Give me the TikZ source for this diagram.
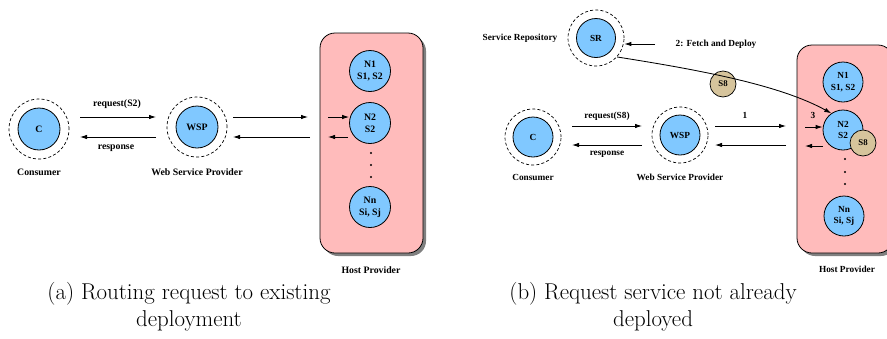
\documentclass[tikz,border=0pt]{standalone}
\usepackage{fontspec}
\newfontfamily\labfont{Liberation Serif}
\usetikzlibrary{arrows.meta,calc}
\definecolor{nodeblue}{RGB}{128,200,255}
\definecolor{hostpink}{RGB}{255,187,187}
\definecolor{pkgtan}{RGB}{214,196,156}
\tikzset{
  lab/.style={font=\labfont\bfseries\fontsize{9.8}{12}\selectfont,inner sep=0pt,align=center},
  labb/.style={font=\labfont\bfseries\fontsize{9.3}{11.5}\selectfont,inner sep=0pt,align=center},
  svc/.style={circle,draw,line width=0.8pt,fill=nodeblue,inner sep=0pt,align=center,
    font=\labfont\bfseries\fontsize{9.8}{12}\selectfont},
  svcb/.style={svc,font=\labfont\bfseries\fontsize{9.3}{11.5}\selectfont},
  halo/.style={circle,draw,line width=0.7pt,dash pattern=on 3pt off 2.2pt,inner sep=0pt},
  pkg/.style={circle,draw,line width=0.7pt,fill=pkgtan,inner sep=0pt,minimum size=26pt,
    font=\labfont\bfseries\fontsize{8.8}{10}\selectfont},
  hostbox/.style={draw,line width=0.8pt,fill=hostpink,rounded corners=15pt,inner sep=0pt},
  hostshadow/.style={fill=black!50,rounded corners=15pt,inner sep=0pt},
  arr/.style={line width=0.85pt,-{Latex[length=7pt,width=4.5pt]}},
  dotmark/.style={circle,fill=black,inner sep=0pt,minimum size=2.4pt},
  captext/.style={font=\fontsize{22.9}{27}\selectfont,align=center,inner sep=0pt}
}
\begin{document}
\begin{tikzpicture}[x=1pt,y=-1pt]
\useasboundingbox (0,0) rectangle (887,338);
\clip (0,0) rectangle (887,338);
% ---------------- panel (a) ----------------
\node[hostshadow,minimum width=103pt,minimum height=220pt] (shA) at (374.5,146) {};
\node[hostbox,minimum width=103pt,minimum height=220pt] (hostA) at (371.5,143) {};
\node[halo,minimum size=60pt] (Ch) at (39,129) {};
\node[svc,minimum size=42pt] (Ca) at (39,129) {C};
\node[halo,minimum size=60pt] (Wh) at (197,127) {};
\node[svc,minimum size=42pt] (Wa) at (197,127) {WSP};
\node[svc,minimum size=41pt] (N1a) at (370,71) {N1\\S1, S2};
\node[svc,minimum size=41pt] (N2a) at (370,123) {N2\\S2};
\node[svc,minimum size=41pt] (Nna) at (370,207) {Nn\\Si, Sj};
\node[dotmark] (da1) at (371,153) {};
\node[dotmark] (da2) at (371,165) {};
\node[dotmark] (da3) at (371,177) {};
\node[lab] (consA) at (39,172) {Consumer};
\node[lab] (wspA) at (197,172) {Web Service Provider};
\node[lab] (hpA) at (371,270) {Host Provider};
\node[lab] (reqA) at (117,104) {request(S2)};
\node[lab] (resA) at (116,148) {response};
\coordinate (a1s) at (80,117);  \coordinate (a1e) at (156,117);
\coordinate (a2s) at (156,137); \coordinate (a2e) at (80,137);
\coordinate (a3s) at (233,117); \coordinate (a3e) at (308,117);
\coordinate (a4s) at (310,137); \coordinate (a4e) at (233,137);
\coordinate (a5s) at (328,117);
\coordinate (a6s) at (348,137); \coordinate (a6e) at (328,137);
\draw[arr] (a1s) -- (a1e);
\draw[arr] (a2s) -- (a2e);
\draw[arr] (a3s) -- (a3e);
\draw[arr] (a4s) -- (a4e);
\draw[arr] (a5s) -- (N2a.west |- a5s);
\draw[arr] (a6s) -- (a6e);
\node[captext] (capA) at (189,306.5) {(a) Routing request to existing\\deployment};
% ---------------- panel (b) ----------------
\node[hostshadow,minimum width=96pt,minimum height=208pt] (shB) at (848,152) {};
\node[hostbox,minimum width=96pt,minimum height=208pt] (hostB) at (845,149) {};
\node[halo,minimum size=56pt] (SRh) at (596,38) {};
\node[svcb,minimum size=39pt] (SR) at (596,38) {SR};
\node[halo,minimum size=56pt] (Cbh) at (533,137) {};
\node[svcb,minimum size=40pt] (Cb) at (533,137) {C};
\node[halo,minimum size=56pt] (Wbh) at (680,135) {};
\node[svcb,minimum size=40pt] (Wb) at (680,135) {WSP};
\node[svcb,minimum size=40pt] (N1b) at (843,82) {N1\\S1, S2};
\node[svcb,minimum size=40pt] (N2b) at (843,130) {N2\\S2};
\node[pkg] (S8b) at (863,143) {S8};
\node[svcb,minimum size=40pt] (Nnb) at (844,216) {Nn\\Si, Sj};
\node[dotmark] (db1) at (845,159) {};
\node[dotmark] (db2) at (845,172) {};
\node[dotmark] (db3) at (845,184) {};
\node[labb] (srlab) at (520,38) {Service Repository};
\node[labb] (fetch) at (716,44) {2: Fetch and Deploy};
\node[labb] (consB) at (533,177) {Consumer};
\node[labb] (wspB) at (680,177) {Web Service Provider};
\node[labb] (hpB) at (847,269) {Host Provider};
\node[labb] (reqB) at (607,116) {request(S8)};
\node[labb] (resB) at (607,154) {response};
\node[labb] (one) at (745,115) {1};
\node[labb] (three) at (813,115) {3};
\coordinate (b0s) at (655,44);
\coordinate (b1s) at (572,126); \coordinate (b1e) at (642,126);
\coordinate (b2s) at (642,145); \coordinate (b2e) at (572,145);
\coordinate (b3s) at (715,126); \coordinate (b3e) at (786,126);
\coordinate (b4s) at (786,145); \coordinate (b4e) at (715,145);
\coordinate (b5s) at (805,127);
\coordinate (b6s) at (823,146); \coordinate (b6e) at (805,146);
\draw[arr] (b0s) -- (SRh.east |- b0s);
\draw[arr] (b1s) -- (b1e);
\draw[arr] (b2s) -- (b2e);
\draw[arr] (b3s) -- (b3e);
\draw[arr] (b4s) -- (b4e);
\draw[arr] (b5s) -- (N2b.west |- b5s);
\draw[arr] (b6s) -- (b6e);
\node[pkg] (S8m) at (723,84) {S8};
\draw[arr] (SRh.-42) .. controls (700,70) and (780,85) .. (N2b.125);
\node[captext] (capB) at (653,306.5) {(b) Request service not already\\deployed};
\end{tikzpicture}
\end{document}
